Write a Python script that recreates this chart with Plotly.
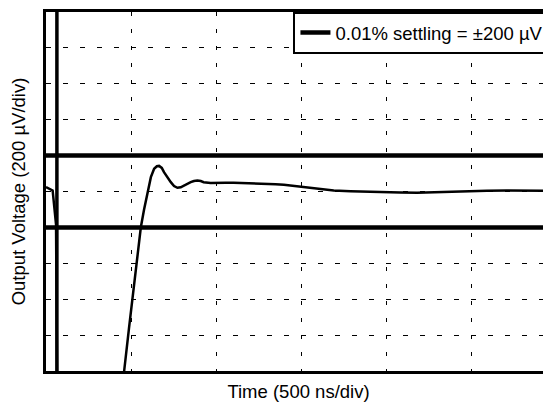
import plotly.graph_objects as go

# Waveform (time in ns, output voltage in µV relative to final value)
time_ns = [0, 12, 29, 39, 59, 70, 434,
           459, 487, 512, 538, 557, 576, 596, 616, 635, 651, 664, 680, 693, 713,
           733, 752, 772, 791, 811, 831, 850, 869, 889, 909, 926, 967, 1007, 1055,
           1102, 1149, 1202, 1249, 1300, 1348, 1397, 1446, 1495, 1593, 1690, 1788,
           1886, 1993, 2081, 2179, 2276, 2374, 2491, 2589, 2706, 2824, 2960, 3000]
volt_uV = [25.0, 19.6, 11.2, 5.6, -184.0, -1726.0, -1279.0,
           -1000.0, -765.4, -553.1, -329.6, -199.4, -100.6, -12.8, 79.9, 126.8, 140.8, 142.5, 131.3, 107.8, 78.2,
           51.9, 30.7, 20.7, 23.5, 33.5, 44.7, 51.9, 58.7, 61.5, 58.1, 51.9, 47.5, 46.4, 48.6,
           48.6, 47.5, 46.4, 44.7, 43.0, 40.2, 37.4, 32.4, 26.3, 15.1, 5.6, 1.7,
           -1.7, -5.6, -5.6, -7.3, -3.9, -1.7, 1.7, 3.9, 5.6, 5.6, 3.9, 4.0]

# Settling band (±200 µV = 0.01%)
band_uV = [200, -200]
band_label = "0.01% settling = \u00b1200 \u00b5V"

# Trigger / step marker
marker_time_ns = 64

x_range = [0, 2966]
y_range = [-1000, 1000]

band_x, band_y = [], []
for b in band_uV:
    band_x += [x_range[0] - 100, x_range[1] + 200, None]
    band_y += [b, b, None]

fig = go.Figure()
fig.add_trace(go.Scatter(x=band_x, y=band_y, mode="lines", name=band_label,
                         line=dict(color="black", width=4.5), showlegend=True,
                         hoverinfo="skip"))
fig.add_trace(go.Scatter(x=time_ns, y=volt_uV, mode="lines", name="Output",
                         line=dict(color="black", width=2.5), showlegend=False))
fig.add_trace(go.Scatter(x=[marker_time_ns, marker_time_ns], y=[y_range[0] - 200, y_range[1] + 200],
                         mode="lines", line=dict(color="black", width=3.5), showlegend=False,
                         hoverinfo="skip"))

font_family = "Liberation Sans, Arial, Helvetica, sans-serif"
fs = 18.5

# The page body has an 8px margin, so the figure is 8px smaller than the window
fig.update_layout(
    width=543, height=394,
    margin=dict(l=38, r=0, t=4, b=31, autoexpand=False),
    paper_bgcolor="white", plot_bgcolor="white",
    font=dict(family=font_family, size=fs, color="black"),
    showlegend=True,
    legend=dict(x=0.49, xanchor="left", y=1, yanchor="top",
                bgcolor="white", bordercolor="black", borderwidth=2,
                font=dict(family=font_family, size=fs, color="black")),
    xaxis=dict(range=x_range, dtick=500, tick0=0, showticklabels=False, ticks="",
               showgrid=True, gridcolor="black", gridwidth=1, griddash="4px,13px",
               zeroline=False, showline=True, linecolor="black", linewidth=3, mirror=True,
               title=dict(text="Time (500 ns/div)", standoff=13,
                          font=dict(family=font_family, size=fs)),
               automargin=False, fixedrange=True),
    yaxis=dict(range=y_range, dtick=200, tick0=0, showticklabels=False, ticks="",
               showgrid=True, gridcolor="black", gridwidth=1, griddash="5px,12px",
               zeroline=False, showline=True, linecolor="black", linewidth=3, mirror=False,
               title=dict(text="Output Voltage (200 \u00b5V/div)", standoff=20,
                          font=dict(family=font_family, size=fs)),
               automargin=False, fixedrange=True),
)

fig.write_html("out.html")
